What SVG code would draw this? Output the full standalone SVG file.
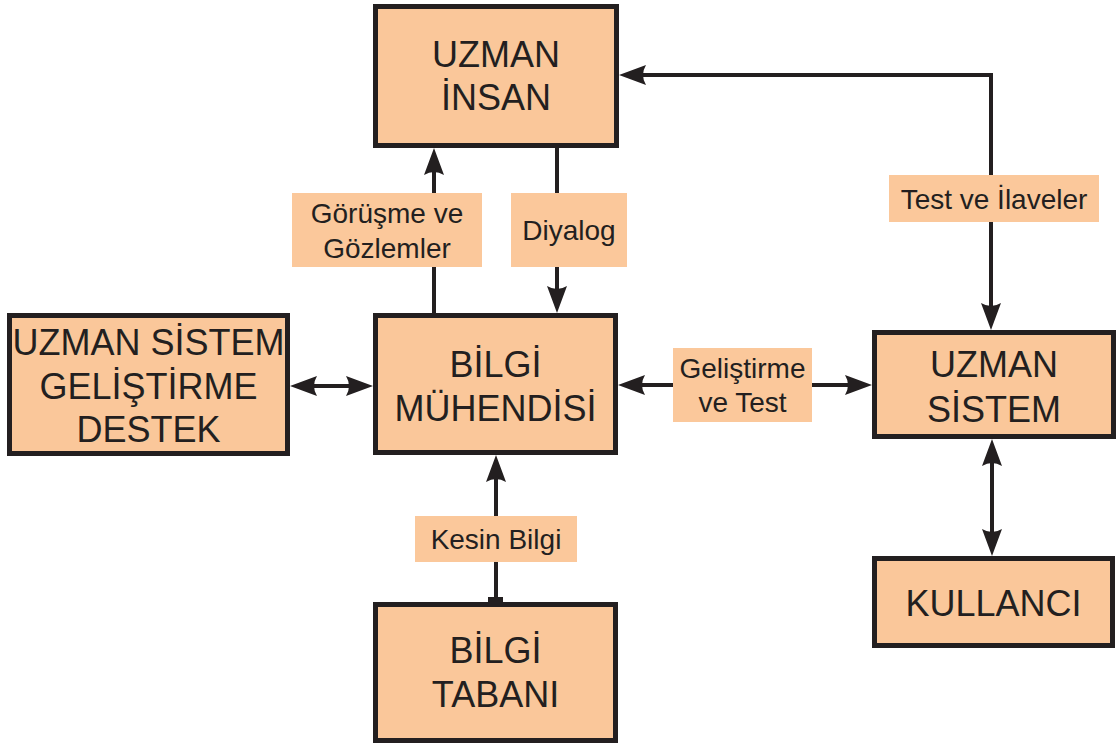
<svg xmlns="http://www.w3.org/2000/svg" width="1120" height="744" viewBox="0 0 1120 744">
<defs>
<style>
.box{fill:#FAC79A;stroke:#231F20;stroke-width:5}
.lbl{fill:#FBC89B}
.bt{font-family:"Liberation Sans",Arial,sans-serif;font-size:36px;fill:#231F20;text-anchor:middle}
.lt{font-family:"Liberation Sans",Arial,sans-serif;font-size:28px;fill:#231F20;text-anchor:middle}
.c{fill:none;stroke:#231F20;stroke-width:4}
</style>
<marker id="ah" markerUnits="userSpaceOnUse" viewBox="-28 -11 30 22" markerWidth="30" markerHeight="22" refX="-10" refY="0" orient="auto-start-reverse">
<path d="M0,0 L-27,-10 Q-21,0 -27,10 Z" fill="#231F20"/>
</marker>
</defs>
<g id="connectors">
<path class="c" d="M434,313 V158" marker-end="url(#ah)"/>
<path class="c" d="M557,148 V303" marker-end="url(#ah)"/>
<path class="c" d="M300,386 H363" marker-start="url(#ah)" marker-end="url(#ah)"/>
<path class="c" d="M628,385 H862" marker-start="url(#ah)" marker-end="url(#ah)"/>
<path class="c" d="M629,75 H991 V320" marker-start="url(#ah)" marker-end="url(#ah)"/>
<path class="c" d="M496,602 V465" marker-end="url(#ah)"/>
<rect x="488" y="597" width="15" height="6" fill="#231F20"/>
<path class="c" d="M992,449 V546" marker-start="url(#ah)" marker-end="url(#ah)"/>
</g>
<g id="label-gorusme">
<rect class="lbl" x="292" y="193" width="190" height="74"/>
<text class="lt" x="387" y="223">Görüşme ve</text>
<text class="lt" x="387" y="258">Gözlemler</text>
</g>
<g id="label-diyalog">
<rect class="lbl" x="511" y="193" width="116" height="74"/>
<text class="lt" x="569" y="240">Diyalog</text>
</g>
<g id="label-gelistirme">
<rect class="lbl" x="673" y="348" width="139" height="74"/>
<text class="lt" x="742.5" y="378">Geliştirme</text>
<text class="lt" x="742.5" y="412">ve Test</text>
</g>
<g id="label-test">
<rect class="lbl" x="889" y="175" width="210" height="47"/>
<text class="lt" x="994" y="209">Test ve İlaveler</text>
</g>
<g id="label-kesin">
<rect class="lbl" x="415" y="516" width="162" height="46"/>
<text class="lt" x="496" y="549">Kesin Bilgi</text>
</g>
<g id="uzman-insan">
<rect class="box" x="375.5" y="6.5" width="241" height="139"/>
<text class="bt" x="496" y="67">UZMAN</text>
<text class="bt" x="496" y="110">İNSAN</text>
</g>
<g id="gelistirme-destek">
<rect class="box" x="9.5" y="315.5" width="278" height="138"/>
<text class="bt" x="148.5" y="355">UZMAN SİSTEM</text>
<text class="bt" x="148.5" y="398.5">GELİŞTİRME</text>
<text class="bt" x="148.5" y="442">DESTEK</text>
</g>
<g id="bilgi-muhendisi">
<rect class="box" x="375.5" y="315.5" width="240" height="137"/>
<text class="bt" x="495.5" y="377">BİLGİ</text>
<text class="bt" x="495.5" y="421">MÜHENDİSİ</text>
</g>
<g id="uzman-sistem">
<rect class="box" x="874.5" y="332.5" width="239" height="104"/>
<text class="bt" x="994" y="377">UZMAN</text>
<text class="bt" x="994" y="422">SİSTEM</text>
</g>
<g id="bilgi-tabani">
<rect class="box" x="375.5" y="604.5" width="240" height="136"/>
<text class="bt" x="495.5" y="663">BİLGİ</text>
<text class="bt" x="495.5" y="707">TABANI</text>
</g>
<g id="kullanci">
<rect class="box" x="874.5" y="558.5" width="238" height="87"/>
<text class="bt" x="993.5" y="616">KULLANCI</text>
</g>
</svg>
